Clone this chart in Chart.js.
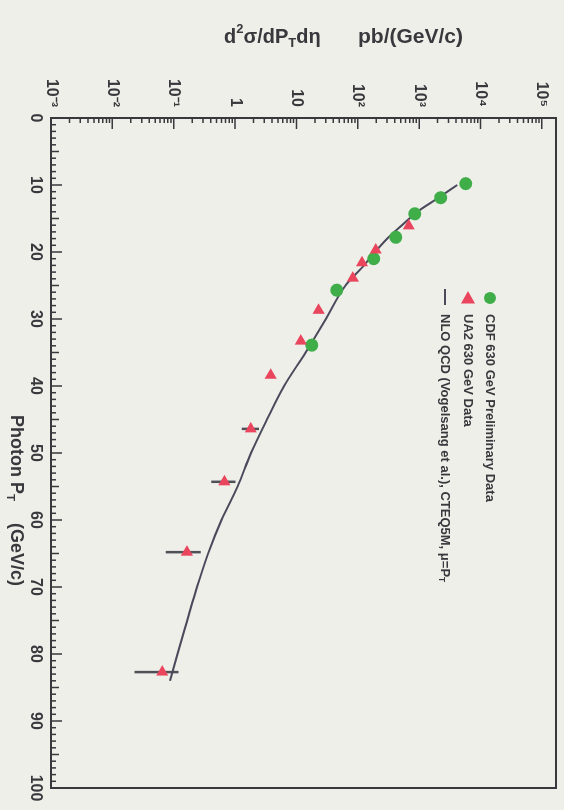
<!DOCTYPE html>
<html>
<head>
<meta charset="utf-8">
<script src="https://cdn.jsdelivr.net/npm/chart.js@4.4.0/dist/chart.umd.min.js"></script>
<style>
  html, body { margin: 0; padding: 0; background: #efefea; }
  #wrap { position: relative; width: 564px; height: 810px; overflow: hidden; background: #efefea; }
  /* the plot is laid out landscape and turned a quarter clockwise */
  #box { position: absolute; left: 0; top: 0; width: 810px; height: 564px;
         transform-origin: 0 0; transform: translate(564px, 0) rotate(90deg); }
  canvas { display: block; }
</style>
</head>
<body>
<div id="wrap"><div id="box"><canvas id="c" width="810" height="564"></canvas></div></div>
<script>
// CDF 630 GeV preliminary isolated-photon cross section
const ptCDF  = [9.8, 11.9, 14.3, 17.8, 21.0, 25.7, 33.9];
const sigCDF = [5750, 2240, 850, 417, 182, 45.6, 17.8];

// UA2 630 GeV data (with cross-section uncertainties where visible)
const ptUA2    = [16.1, 19.7, 21.6, 23.9, 28.7, 33.3, 38.4, 46.4, 54.3, 64.8, 82.7];
const sigUA2   = [676, 196, 117, 83, 23, 11.8, 3.8, 1.8, 0.67, 0.164, 0.065];
const sigUA2Lo = [null, null, null, null, null, null, null, 1.29, 0.41, 0.074, 0.023];
const sigUA2Hi = [null, null, null, null, null, null, null, 2.45, 1.02, 0.275, 0.12];

// NLO QCD prediction
const ptNLO  = [10, 12, 14, 16, 18, 20, 22, 25, 30, 35, 40, 45, 50, 55, 60, 65, 70, 75, 80, 84];
const sigNLO = [4170, 1995, 933, 525, 302, 191, 126, 63, 30.2, 14.1, 6.3, 3.31, 1.82, 1.10, 0.60, 0.363, 0.24, 0.166, 0.115, 0.087];

// axis ticks
const logTickValues = [1e-3, 1e-2, 1e-1, 1, 10, 1e2, 1e3, 1e4, 1e5];
const logTickLabels = ['10\u207B\u00B3', '10\u207B\u00B2', '10\u207B\u00B9', '1', '10', '10\u00B2', '10\u00B3', '10\u2074', '10\u2075'];

const legendLabels = [
  'CDF 630 GeV Preliminary Data',
  'UA2 630 GeV Data',
  'NLO QCD (Vogelsang et al.), CTEQ5M, \u03BC=P'
];

const INK = '#38383d';
const FONT = '"Liberation Sans", Arial, sans-serif';
const GREEN = '#3fae49';
const RED = '#e9455d';
const LINE = '#4a4a5c';

const pts = (xs, ys) => xs.map((x, i) => ({ x: x, y: ys[i] }));

// ROOT-style frame with inward ticks
const framePlugin = {
  id: 'frame',
  afterDatasetsDraw(chart) {
    const { ctx, chartArea: a, scales: { x, y } } = chart;
    ctx.save();
    ctx.strokeStyle = INK;
    ctx.lineWidth = 1.5;
    ctx.beginPath();
    for (let v = 0; v <= 100; v++) {
      const len = v % 10 === 0 ? 11 : (v % 5 === 0 ? 8 : 5);
      const px = x.getPixelForValue(v);
      ctx.moveTo(px, a.bottom);
      ctx.lineTo(px, a.bottom - len);
    }
    for (let d = -3; d <= 5; d++) {
      for (let m = 1; m <= 9; m++) {
        const v = m * Math.pow(10, d);
        if (v < y.min || v > y.max) continue;
        const py = y.getPixelForValue(v);
        const len = m === 1 ? 11 : 5;
        ctx.moveTo(a.left, py);
        ctx.lineTo(a.left + len, py);
      }
    }
    ctx.stroke();
    ctx.lineWidth = 2;
    ctx.strokeRect(a.left, a.top, a.right - a.left, a.bottom - a.top);
    ctx.restore();
  }
};

// vertical uncertainty bars for UA2
const errorBarPlugin = {
  id: 'errbars',
  beforeDatasetsDraw(chart) {
    const { ctx, scales: { x, y } } = chart;
    ctx.save();
    ctx.strokeStyle = '#505058';
    ctx.lineWidth = 2.5;
    ctx.beginPath();
    ptUA2.forEach((pt, i) => {
      if (sigUA2Lo[i] == null) return;
      const px = x.getPixelForValue(pt);
      ctx.moveTo(px, y.getPixelForValue(sigUA2Lo[i]));
      ctx.lineTo(px, y.getPixelForValue(sigUA2Hi[i]));
    });
    ctx.stroke();
    ctx.restore();
  }
};

// text pieces with sub/superscripts
function drawRich(ctx, parts, x0, y0, size) {
  let x = x0;
  parts.forEach(p => {
    if (p.at !== undefined) x = x0 + p.at;
    const base = p.size || size;
    const s = p.small ? base * 0.65 : base;
    ctx.font = 'bold ' + s + 'px ' + FONT;
    const dy = p.sup ? -base * 0.38 : (p.sub ? base * 0.3 : 0);
    ctx.fillText(p.t, x, y0 + dy);
    x += ctx.measureText(p.t).width;
  });
}

const textPlugin = {
  id: 'texts',
  afterDraw(chart) {
    const { ctx } = chart;
    ctx.save();
    ctx.fillStyle = INK;
    ctx.textBaseline = 'middle';
    ctx.textAlign = 'left';

    // y-axis title
    ctx.save();
    ctx.translate(37, 340);
    ctx.rotate(-Math.PI / 2);
    drawRich(ctx, [
      { t: 'd' }, { t: '2', sup: true, small: true }, { t: '\u03C3/dP' },
      { t: 'T', sub: true, small: true }, { t: 'd\u03B7' },
      { t: 'pb/(GeV/c)', at: 134, size: 21 }
    ], 0, 0, 20);
    ctx.restore();

    // x-axis title
    drawRich(ctx, [
      { t: 'Photon P' }, { t: 'T', sub: true, small: true },
      { t: '(GeV/c)', at: 108 }
    ], 415, 548, 18);

    // legend
    const lx = 298;
    const rows = [74, 96, 119];
    ctx.fillStyle = GREEN;
    ctx.beginPath();
    ctx.arc(lx, rows[0], 6, 0, Math.PI * 2);
    ctx.fill();
    ctx.fillStyle = RED;
    ctx.beginPath();
    ctx.moveTo(lx - 7, rows[1]);
    ctx.lineTo(lx + 5.5, rows[1] - 7);
    ctx.lineTo(lx + 5.5, rows[1] + 7);
    ctx.closePath();
    ctx.fill();
    ctx.strokeStyle = LINE;
    ctx.lineWidth = 2;
    ctx.beginPath();
    ctx.moveTo(lx - 9, rows[2]);
    ctx.lineTo(lx + 7, rows[2]);
    ctx.stroke();

    ctx.fillStyle = INK;
    ctx.font = 'bold 13px ' + FONT;
    ctx.fillText(legendLabels[0], 314, rows[0]);
    ctx.fillText(legendLabels[1], 314, rows[1]);
    drawRich(ctx, [{ t: legendLabels[2] }, { t: 'T', sub: true, small: true }], 314, rows[2], 13);
    ctx.restore();
  }
};

new Chart(document.getElementById('c'), {
  type: 'scatter',
  data: {
    datasets: [
      {
        label: legendLabels[2],
        data: pts(ptNLO, sigNLO),
        showLine: true,
        borderColor: LINE,
        borderWidth: 2,
        pointRadius: 0,
        cubicInterpolationMode: 'monotone',
        order: 3
      },
      {
        label: legendLabels[0],
        data: pts(ptCDF, sigCDF),
        pointStyle: 'circle',
        pointRadius: 6.5,
        backgroundColor: GREEN,
        borderWidth: 0,
        order: 2
      },
      {
        label: legendLabels[1],
        data: pts(ptUA2, sigUA2),
        pointStyle: 'triangle',
        rotation: -90,
        pointRadius: 7,
        backgroundColor: RED,
        borderWidth: 0,
        order: 1
      }
    ]
  },
  options: {
    responsive: false,
    animation: false,
    devicePixelRatio: 1,
    layout: { padding: { left: 0, top: 8, right: 22, bottom: 0 } },
    plugins: { legend: { display: false }, tooltip: { enabled: false } },
    scales: {
      x: {
        type: 'linear',
        position: 'bottom',
        min: 0,
        max: 100,
        ticks: { stepSize: 10, color: INK, padding: 6, font: { family: FONT, size: 16, weight: 'bold' }, maxRotation: 0 },
        grid: { display: false, drawTicks: false },
        border: { display: false },
        afterFit(s) { s.height = 51; s.paddingLeft = 0; s.paddingRight = 0; }
      },
      y: {
        type: 'logarithmic',
        position: 'left',
        min: 1e-3,
        max: 1.7e5,
        afterBuildTicks(s) { s.ticks = logTickValues.map(v => ({ value: v })); },
        ticks: {
          color: INK,
          padding: 11,
          font: { family: FONT, size: 16, weight: 'bold' },
          callback: (v) => {
            const i = logTickValues.findIndex(t => Math.abs(Math.log10(t) - Math.log10(v)) < 1e-6);
            return i >= 0 ? logTickLabels[i] : '';
          }
        },
        grid: { display: false, drawTicks: false },
        border: { display: false },
        afterFit(s) { s.width = 118; s.paddingTop = 0; s.paddingBottom = 0; }
      }
    }
  },
  plugins: [errorBarPlugin, framePlugin, textPlugin]
});
</script>
</body>
</html>
